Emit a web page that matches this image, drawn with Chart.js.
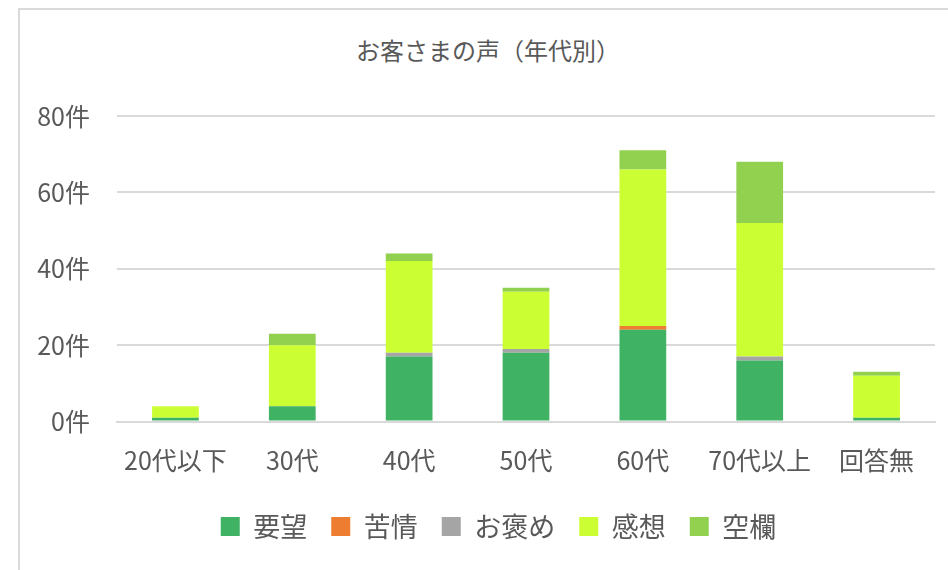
<!DOCTYPE html>
<html>
<head>
<meta charset="utf-8">
<script src="https://cdn.jsdelivr.net/npm/chart.js@4/dist/chart.umd.min.js"></script>
<style>
  html, body { margin: 0; padding: 0; background: #fff; }
  body { width: 948px; height: 570px; position: relative; overflow: hidden; }
  .frame {
    position: absolute; left: 18px; top: 8px; width: 1000px; height: 600px;
    border-left: 2px solid #d9d9d9; border-top: 2px solid #d9d9d9;
  }
  .wrap { position: absolute; left: 0; top: 0; width: 948px; height: 570px; }
  .title {
    position: absolute; left: 288px; width: 400px; top: 34px;
    text-align: center; color: #595959; font-size: 24px; line-height: 32px;
    font-family: "Noto Sans CJK JP", "Noto Sans", sans-serif;
  }
</style>
</head>
<body>
<div class="frame"></div>
<div class="title">お客さまの声（年代別）</div>
<div class="wrap"><canvas id="voiceChart"></canvas></div>
<script>
// Age groups and counts per category of feedback
const ageGroups = ['20代以下', '30代', '40代', '50代', '60代', '70代以上', '回答無'];
const requests = [1, 4, 17, 18, 24, 16, 1];     // 要望
const complaints = [0, 0, 0, 0, 1, 0, 0];       // 苦情
const compliments = [0, 0, 1, 1, 0, 1, 0];      // お褒め
const impressions = [3, 16, 24, 15, 41, 35, 11]; // 感想
const blanks = [0, 3, 2, 1, 5, 16, 1];          // 空欄
const yTicks = [0, 20, 40, 60, 80];

const textColor = '#595959';
const fontFamily = '"Noto Sans CJK JP", "Noto Sans", sans-serif';

function series(label, data, color) {
  return {
    label: label,
    data: data,
    backgroundColor: color,
    borderWidth: 0,
    barPercentage: 0.4,
    categoryPercentage: 1.0
  };
}

// legend sits a bit right of the plot centre in the original
const shiftLegend = {
  id: 'shiftLegend',
  afterLayout(chart) {
    chart.legend.left += 31;
    chart.legend.right += 31;
  }
};

const ctx = document.getElementById('voiceChart').getContext('2d');
new Chart(ctx, {
  type: 'bar',
  data: {
    labels: ageGroups,
    datasets: [
      series('要望', requests, '#3fb263'),
      series('苦情', complaints, '#ed7d31'),
      series('お褒め', compliments, '#a5a5a5'),
      series('感想', impressions, '#ccff33'),
      series('空欄', blanks, '#92d050')
    ]
  },
  plugins: [shiftLegend],
  options: {
    responsive: true,
    maintainAspectRatio: false,
    animation: false,
    layout: { padding: { left: 0, right: 13, top: 116, bottom: 20 } },
    scales: {
      x: {
        stacked: true,
        grid: { display: false, drawTicks: false },
        border: { display: true, color: '#d9d9d9', width: 2 },
        ticks: {
          color: textColor,
          font: { family: fontFamily, size: 25 },
          padding: 24,
          maxRotation: 0,
          autoSkip: false
        },
        afterFit: scale => { scale.height -= 10.5; }
      },
      y: {
        stacked: true,
        min: 0,
        max: 80,
        afterBuildTicks: scale => { scale.ticks = yTicks.map(v => ({ value: v })); },
        grid: { color: '#d9d9d9', lineWidth: 2, drawTicks: false },
        border: { display: false },
        ticks: {
          color: textColor,
          font: { family: fontFamily, size: 25 },
          padding: 27,
          callback: value => value + '件'
        },
        afterFit: scale => { scale.width = 117; }
      }
    },
    plugins: {
      title: { display: false },
      legend: {
        position: 'bottom',
        labels: {
          color: textColor,
          font: { family: fontFamily, size: 27 },
          boxWidth: 19,
          boxHeight: 19,
          padding: 24
        }
      },
      tooltip: { enabled: false }
    }
  }
});
</script>
</body>
</html>
